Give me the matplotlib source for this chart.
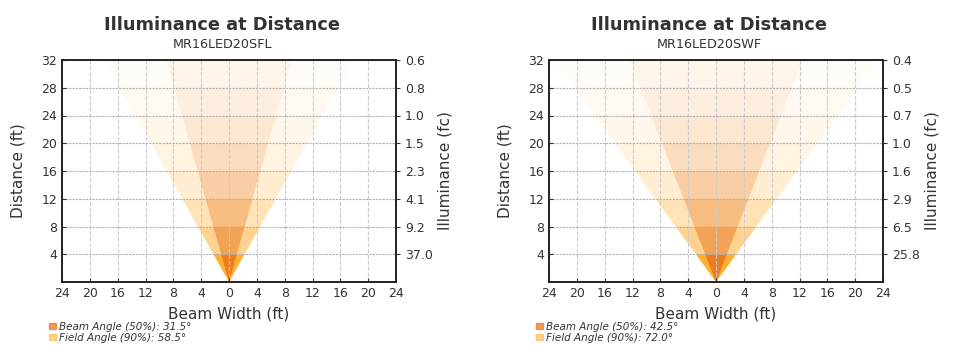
import numpy as np
import matplotlib
matplotlib.use("Agg")
import matplotlib.pyplot as plt
from matplotlib.patches import Patch

# Photometric data per lamp
models = ["MR16LED20SFL", "MR16LED20SWF"]
beam_angles = [31.5, 42.5]
field_angles = [58.5, 72.0]
distances = [4, 8, 12, 16, 20, 24, 28, 32]
illuminance = [
    ["37.0", "9.2", "4.1", "2.3", "1.5", "1.0", "0.8", "0.6"],
    ["25.8", "6.5", "2.9", "1.6", "1.0", "0.7", "0.5", "0.4"],
]
x_ticks = [-24, -20, -16, -12, -8, -4, 0, 4, 8, 12, 16, 20, 24]

# fade of each 4 ft band
band_alpha = [0.92, 0.5, 0.32, 0.2, 0.13, 0.09, 0.06, 0.04]
beam_alpha = [0.85, 0.5, 0.35, 0.25, 0.18, 0.12, 0.08, 0.05]
field_color = "#ffa820"
beam_color = "#e8741c"
txt = "#333333"

plt.rcParams["font.family"] = "DejaVu Sans"

fig = plt.figure(figsize=(9.6, 3.6), dpi=100)


def cone(ax, angle, color, alphas):
    t = np.tan(np.radians(angle / 2))
    lo = 0
    for d, a in zip(distances, alphas):
        xs = [-lo * t, lo * t, d * t, -d * t]
        ys = [lo, lo, d, d]
        ax.fill(xs, ys, color=color, alpha=a, lw=0)
        lo = d


for i, model in enumerate(models):
    left = 62 / 960 if i == 0 else 549 / 960
    ax = fig.add_axes([left, 78 / 360, 334 / 960, 222 / 360])
    cone(ax, field_angles[i], field_color, band_alpha)
    cone(ax, beam_angles[i], beam_color, beam_alpha)

    ax.set_xlim(-24, 24)
    ax.set_ylim(0, 32)
    ax.set_xticks(x_ticks)
    ax.set_xticklabels([str(abs(v)) for v in x_ticks])
    ax.set_yticks(distances)
    ax.tick_params(direction="in", labelsize=9, colors=txt, length=3)
    ax.xaxis.grid(True, ls="--", color="#cccccc", lw=0.8)
    ax.yaxis.grid(True, ls=(0, (2, 1)), color="#b0b0b0", lw=0.8)
    for s in ax.spines.values():
        s.set_color("#222222")
        s.set_linewidth(1.2)
    ax.set_xlabel("Beam Width (ft)", fontsize=11, color=txt, labelpad=5)
    ax.set_ylabel("Distance (ft)", fontsize=11, color=txt, labelpad=11)

    ax2 = ax.twinx()
    ax2.set_ylim(0, 32)
    ax2.set_yticks(distances)
    ax2.set_yticklabels(illuminance[i])
    ax2.tick_params(direction="out", labelsize=9, colors=txt, length=3)
    ax2.set_ylabel("Illuminance (fc)", fontsize=11, color=txt, labelpad=3)
    for s in ax2.spines.values():
        s.set_color("#222222")
        s.set_linewidth(1.2)

    cx = (222 if i == 0 else 709) / 960
    fig.text(cx, 1 - 25 / 360, "Illuminance at Distance", ha="center", va="center",
             fontsize=12.8, fontweight="bold", color=txt)
    fig.text(cx, 1 - 45 / 360, model, ha="center", va="center", fontsize=9.2, color=txt)

    handles = [
        Patch(color=beam_color, alpha=0.7, label=f"Beam Angle (50%): {beam_angles[i]}°"),
        Patch(color=field_color, alpha=0.5, label=f"Field Angle (90%): {field_angles[i]}°"),
    ]
    lx = (49 if i == 0 else 536) / 960
    fig.legend(handles=handles, loc="upper left", bbox_to_anchor=(lx, 1 - 322 / 360),
               frameon=False, prop={"size": 7.5, "style": "italic"}, labelcolor=txt,
               handlelength=0.7, handleheight=0.5, handletextpad=0.3, labelspacing=0.05,
               borderpad=0, borderaxespad=0)

fig.savefig("out.png", dpi=100)
